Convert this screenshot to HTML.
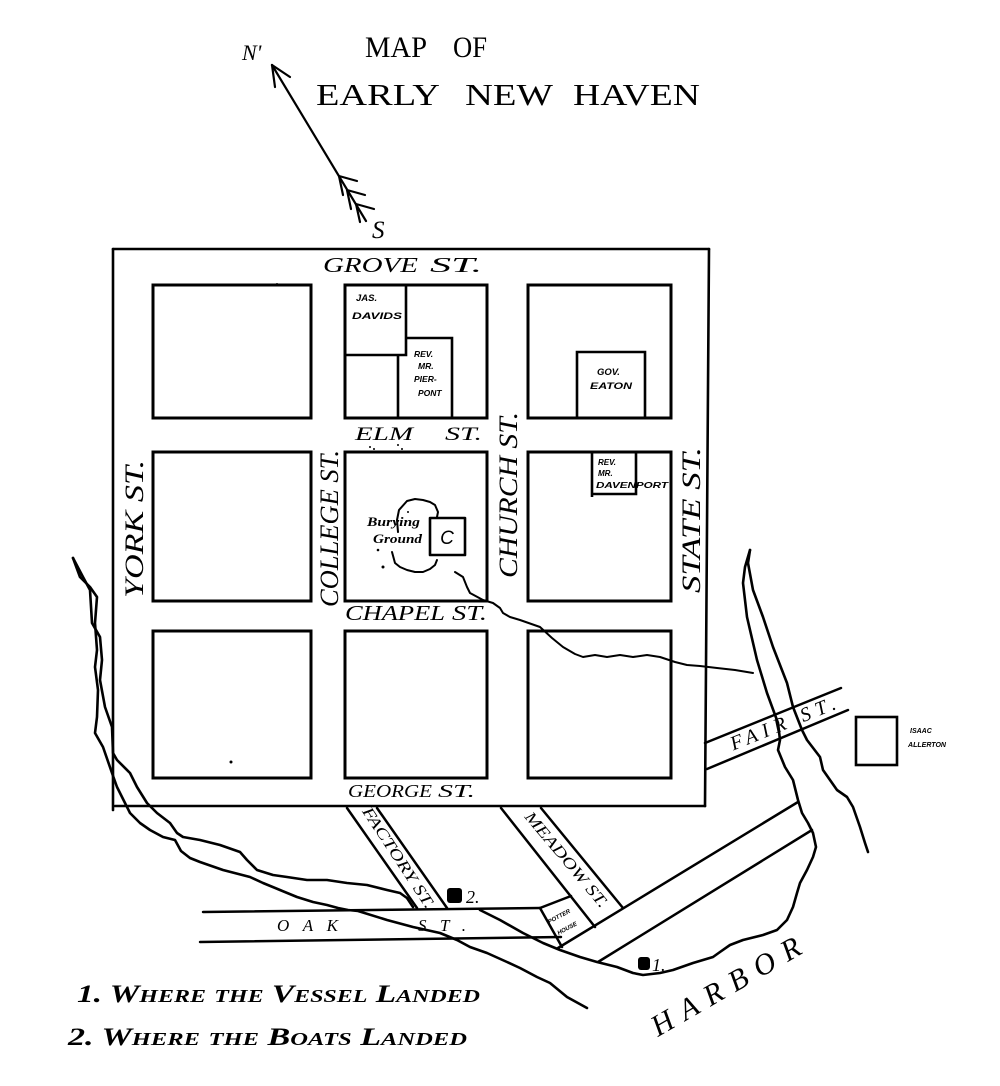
<!DOCTYPE html>
<html>
<head>
<meta charset="utf-8">
<style>
html,body{margin:0;padding:0;background:#fff;}
svg{display:block;}
text{font-family:"Liberation Serif",serif;fill:#000;}
.st{font-style:italic;}
.sm{font-family:"Liberation Sans",sans-serif;font-weight:bold;font-style:italic;}
</style>
</head>
<body>
<svg width="1000" height="1086" viewBox="0 0 1000 1086" xmlns="http://www.w3.org/2000/svg">
<rect x="0" y="0" width="1000" height="1086" fill="#fff"/>

<!-- Title -->
<text x="365" y="57" font-size="30" textLength="62" lengthAdjust="spacingAndGlyphs">MAP</text>
<text x="453" y="57" font-size="30" textLength="34" lengthAdjust="spacingAndGlyphs">OF</text>
<text x="316" y="105" font-size="31" textLength="124" lengthAdjust="spacingAndGlyphs">EARLY</text>
<text x="465" y="105" font-size="31" textLength="88" lengthAdjust="spacingAndGlyphs">NEW</text>
<text x="573" y="105" font-size="31" textLength="127" lengthAdjust="spacingAndGlyphs">HAVEN</text>

<!-- Compass -->
<g stroke="#000" stroke-width="2.2" fill="none" stroke-linecap="round">
  <line x1="272" y1="65" x2="366" y2="221"/>
  <line x1="272" y1="65" x2="275" y2="87"/>
  <line x1="272" y1="65" x2="290" y2="77"/>
  <line x1="339" y1="176" x2="343" y2="195"/>
  <line x1="339" y1="176" x2="357" y2="181"/>
  <line x1="347" y1="190" x2="351" y2="209"/>
  <line x1="347" y1="190" x2="365" y2="195"/>
  <line x1="356" y1="204" x2="360" y2="222"/>
  <line x1="356" y1="204" x2="374" y2="209"/>
</g>
<text x="242" y="60" font-size="22" class="st">N'</text>
<text x="372" y="238" font-size="25" class="st">S</text>

<!-- Outer frame -->
<g stroke="#000" stroke-width="2.6" fill="none" stroke-linecap="round">
  <line x1="113" y1="249" x2="709" y2="249"/>
  <line x1="113" y1="249" x2="113" y2="810"/>
  <line x1="709" y1="249" x2="705" y2="806"/>
  <line x1="115" y1="806" x2="705" y2="806"/>
</g>

<!-- Blocks -->
<g stroke="#000" stroke-width="3" fill="none">
  <rect x="153" y="285" width="158" height="133"/>
  <rect x="345" y="285" width="142" height="133"/>
  <rect x="528" y="285" width="143" height="133"/>
  <rect x="153" y="452" width="158" height="149"/>
  <rect x="345" y="452" width="142" height="149"/>
  <rect x="528" y="452" width="143" height="149"/>
  <rect x="153" y="631" width="158" height="147"/>
  <rect x="345" y="631" width="142" height="147"/>
  <rect x="528" y="631" width="143" height="147"/>
</g>

<!-- Lots -->
<g stroke="#000" stroke-width="2.6" fill="none">
  <polyline points="406,285 406,355 345,355"/>
  <line x1="398" y1="355" x2="398" y2="418"/>
  <polyline points="406,338 452,338 452,418"/>
  <polyline points="577,418 577,352 645,352 645,418"/>
  <polyline points="592,452 592,497"/>
  <polyline points="592,494 636,494 636,452"/>
  <rect x="856" y="717" width="41" height="48"/>
</g>

<!-- Lot labels -->
<text x="356" y="301" font-size="9.5" class="sm">JAS.</text>
<text x="352" y="319" font-size="9.5" class="sm" textLength="50" lengthAdjust="spacingAndGlyphs">DAVIDS</text>
<text x="414" y="357" font-size="8.5" class="sm">REV.</text>
<text x="418" y="369" font-size="8.5" class="sm">MR.</text>
<text x="414" y="382" font-size="8.5" class="sm">PIER-</text>
<text x="418" y="396" font-size="8.5" class="sm">PONT</text>
<text x="597" y="375" font-size="9.5" class="sm">GOV.</text>
<text x="590" y="389" font-size="9.5" class="sm" textLength="42" lengthAdjust="spacingAndGlyphs">EATON</text>
<text x="598" y="465" font-size="8" class="sm">REV.</text>
<text x="598" y="476" font-size="8" class="sm">MR.</text>
<text x="596" y="488" font-size="8" class="sm" textLength="72" lengthAdjust="spacingAndGlyphs">DAVENPORT</text>
<text x="910" y="733" font-size="7" class="sm">ISAAC</text>
<text x="908" y="747" font-size="7.5" class="sm" textLength="38" lengthAdjust="spacingAndGlyphs">ALLERTON</text>

<!-- Burying ground -->
<g stroke="#000" stroke-width="2" fill="none" stroke-linejoin="round" stroke-linecap="round">
  <polyline points="398,532 397,520 399,510 407,501 415,499 423,500 430,502 435,505 438,512 437,517"/>
  <polyline points="392,552 395,563 400,567 407,570 415,572 423,572 430,569 435,565 437,560"/>
  <rect x="430" y="518" width="35" height="37" stroke-width="2.6"/>
</g>
<text x="367" y="526" font-size="12.5" class="st" font-weight="bold" textLength="53" lengthAdjust="spacingAndGlyphs">Burying</text>
<text x="373" y="543" font-size="12.5" class="st" font-weight="bold" textLength="49" lengthAdjust="spacingAndGlyphs">Ground</text>
<text x="447" y="544" font-size="19" class="sm" text-anchor="middle" style="font-weight:normal">C</text>

<!-- specks -->
<g fill="#000">
  <circle cx="231" cy="762" r="1.5"/>
  <circle cx="370" cy="447" r="1"/>
  <circle cx="374" cy="449" r="1"/>
  <circle cx="398" cy="445" r="1"/>
  <circle cx="402" cy="449" r="1"/>
  <circle cx="378" cy="550" r="1.3"/>
  <circle cx="383" cy="567" r="1.5"/>
  <circle cx="408" cy="512" r="1"/>
  <circle cx="277" cy="284" r="1"/>
</g>

<!-- Streets outside -->
<g stroke="#000" stroke-width="2.5" fill="none" stroke-linecap="round">
  <line x1="347" y1="808" x2="417" y2="908"/>
  <line x1="377" y1="808" x2="447" y2="908"/>
  <line x1="501" y1="808" x2="595" y2="927"/>
  <line x1="541" y1="808" x2="623" y2="908"/>
  <line x1="203" y1="912" x2="540" y2="908"/>
  <line x1="200" y1="942" x2="561" y2="937"/>
  <polyline points="540,908 571,896"/>
  <line x1="540" y1="908" x2="562" y2="947"/>
  <line x1="558" y1="948" x2="798" y2="802"/>
  <line x1="598" y1="962" x2="812" y2="830"/>
  <line x1="705" y1="743" x2="841" y2="688"/>
  <line x1="707" y1="769" x2="848" y2="710"/>
</g>

<!-- Rivers -->
<g stroke="#000" stroke-width="2.6" fill="none" stroke-linejoin="round" stroke-linecap="round">
  <polyline points="73,558 80,577 90,587 97,597 95,623 97,650 95,667 98,690 97,717 95,733 103,747 112,773 117,787 125,803 130,813 140,823 150,830 163,837 175,840 181,851 190,858 200,862 223,870 250,877 263,883 280,890 297,897 313,902 327,905 338,908 348,910 358,911 387,920 413,927 440,933 457,940 470,947 487,953 507,962 520,968 537,977 550,983 567,997 587,1008"/>
  <polyline points="73,558 83,577 90,590 92,623 100,637 102,660 100,680 105,707 112,727 113,753 117,760 130,773 137,787 147,803 157,813 170,823 177,833 183,837 200,840 220,845 240,852 247,860 257,870 273,875 287,877 307,880 327,880 347,883 367,885 387,890 400,893 407,898 413,907"/>
  <polyline points="480,910 500,920 523,933 543,943 560,950 580,957 597,962 617,967 633,973 643,975 660,973 673,970 693,963 713,957 720,952 730,945 743,940 763,935 777,930 787,920 793,907 797,893 800,883 807,870 813,857 816,847 813,833 808,823 802,813 798,800 793,780 785,767 778,750 780,740 778,723 767,693 757,660 747,617 743,583 745,567 750,550"/>
  <polyline points="750,550 748,563 753,590 763,617 773,647 787,683 793,707 802,730 807,740 820,757 823,770 830,780 837,790 847,797 853,807 860,827 865,843 868,852"/>
  <polyline stroke-width="2" points="455,572 463,577 467,587 470,593 483,600 493,603 500,608 503,613 510,617 520,620 540,627 552,638 563,647 575,654 583,657 595,655 607,657 620,655 633,657 647,655 660,657 675,662 687,665 700,666 717,668 735,670 753,673"/>
</g>

<!-- Street names -->
<text x="323" y="272" font-size="21" class="st" textLength="95" lengthAdjust="spacingAndGlyphs">GROVE</text>
<text x="430" y="272" font-size="21" class="st" textLength="52" lengthAdjust="spacingAndGlyphs">ST.</text>
<text x="355" y="440" font-size="19" class="st" textLength="58" lengthAdjust="spacingAndGlyphs">ELM</text>
<text x="445" y="440" font-size="19" class="st" textLength="37" lengthAdjust="spacingAndGlyphs">ST.</text>
<text x="345" y="620" font-size="21" class="st" textLength="100" lengthAdjust="spacingAndGlyphs">CHAPEL</text>
<text x="452" y="620" font-size="21" class="st" textLength="35" lengthAdjust="spacingAndGlyphs">ST.</text>
<text x="348" y="797" font-size="18" class="st" textLength="84" lengthAdjust="spacingAndGlyphs">GEORGE</text>
<text x="438" y="797" font-size="18" class="st" textLength="37" lengthAdjust="spacingAndGlyphs">ST.</text>

<text transform="translate(143,598) rotate(-90)" font-size="26" class="st" textLength="138" lengthAdjust="spacingAndGlyphs">YORK ST.</text>
<text transform="translate(338,607) rotate(-90)" font-size="26" class="st" textLength="157" lengthAdjust="spacingAndGlyphs">COLLEGE ST.</text>
<text transform="translate(517,578) rotate(-90)" font-size="26" class="st" textLength="166" lengthAdjust="spacingAndGlyphs">CHURCH ST.</text>
<text transform="translate(700,593) rotate(-90)" font-size="26" class="st" textLength="146" lengthAdjust="spacingAndGlyphs">STATE ST.</text>

<text transform="translate(398,858) rotate(56.6)" font-size="16" class="st" text-anchor="middle" dominant-baseline="central" textLength="118" lengthAdjust="spacingAndGlyphs">FACTORY ST.</text>
<text transform="translate(566,860) rotate(50)" font-size="16" class="st" text-anchor="middle" dominant-baseline="central" textLength="120" lengthAdjust="spacingAndGlyphs">MEADOW ST.</text>
<text transform="translate(783,724) rotate(-22)" font-size="20" class="st" text-anchor="middle" dominant-baseline="central" textLength="112" lengthAdjust="spacing">FAIR  ST.</text>
<text x="277" y="931" font-size="17" class="st" textLength="61" lengthAdjust="spacing">OAK</text>
<text x="418" y="931" font-size="17" class="st" textLength="48" lengthAdjust="spacing">ST.</text>

<!-- small house box label -->
<text transform="translate(560,918) rotate(-28)" font-size="6" class="sm" text-anchor="middle">POTTER</text>
<text transform="translate(568,930) rotate(-28)" font-size="6" class="sm" text-anchor="middle">HOUSE</text>

<!-- Markers -->
<rect x="447" y="888" width="15" height="15" rx="3" fill="#000"/>
<text x="466" y="903" font-size="18" class="st">2.</text>
<rect x="638" y="957" width="12" height="13" rx="3" fill="#000"/>
<text x="652" y="971" font-size="18" class="st">1.</text>

<!-- Harbor -->
<text transform="translate(658,1037) rotate(-30)" font-size="30" class="st" textLength="168" lengthAdjust="spacing">HARBOR</text>

<!-- Legend -->
<text x="77" y="1002" font-size="25" font-weight="bold" font-style="italic" style="font-variant:small-caps" textLength="403" lengthAdjust="spacingAndGlyphs">1. Where the Vessel Landed</text>
<text x="68" y="1045" font-size="25" font-weight="bold" font-style="italic" style="font-variant:small-caps" textLength="399" lengthAdjust="spacingAndGlyphs">2. Where the Boats Landed</text>
</svg>
</body>
</html>
